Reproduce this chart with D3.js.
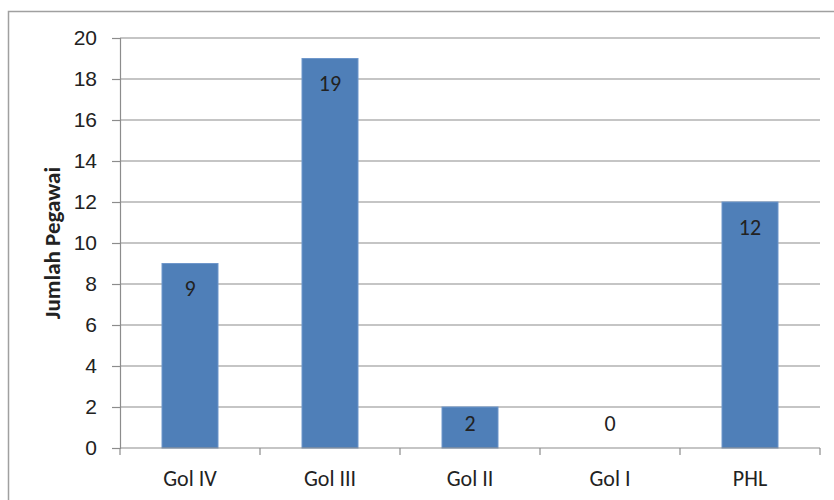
<!DOCTYPE html>
<html>
<head>
<meta charset="utf-8">
<script src="https://cdn.jsdelivr.net/npm/d3@7"></script>
<style>
  body { margin: 0; background: #fff; }
  svg { display: block; font-family: Carlito, Lato, sans-serif; }
</style>
</head>
<body>
<svg></svg>
<script>
var width = 834;
var height = 500;

var categories = ["Gol IV", "Gol III", "Gol II", "Gol I", "PHL"];
var values = [9, 19, 2, 0, 12];
var yTicks = [0, 2, 4, 6, 8, 10, 12, 14, 16, 18, 20];

var svg = d3.select("svg")
    .attr("width", width)
    .attr("height", height);

// outer frame (right and bottom run off the picture)
svg.append("path")
    .attr("d", "M8.5,520 V11.5 H860")
    .attr("fill", "none")
    .attr("stroke", "#a0a0a0")
    .attr("stroke-width", 1.5);

var plotLeft = 120, plotRight = 820, plotTop = 38, plotBottom = 448;

var x = d3.scaleBand().domain(categories).range([plotLeft, plotRight]).paddingInner(0.6).paddingOuter(0.3);
var xOuter = d3.scaleBand().domain(categories).range([plotLeft, plotRight]);
var y = d3.scaleLinear().domain([0, 20]).range([plotBottom, plotTop]);

// gridlines
svg.append("g").selectAll("line")
    .data(yTicks.filter(function(d) { return d > 0; }))
    .enter().append("line")
    .attr("x1", plotLeft).attr("x2", plotRight)
    .attr("y1", function(d) { return y(d); })
    .attr("y2", function(d) { return y(d); })
    .attr("stroke", "#8c8c8c")
    .attr("stroke-width", 1.2);

// y axis
var yAxis = d3.axisLeft(y).tickValues(yTicks).tickSize(8).tickPadding(15);
var gy = svg.append("g").attr("transform", "translate(" + plotLeft + ",0)").call(yAxis);
gy.select(".domain").attr("stroke", "#8c8c8c").attr("stroke-width", 1.2);
gy.selectAll(".tick line").attr("stroke", "#8c8c8c").attr("stroke-width", 1.2);
gy.selectAll("text").attr("font-size", 21).attr("fill", "#222").attr("font-family", null);

// bars
svg.append("g").selectAll("rect")
    .data(values)
    .enter().append("rect")
    .attr("x", function(d, i) { return x(categories[i]); })
    .attr("width", x.bandwidth())
    .attr("y", function(d) { return y(d); })
    .attr("height", function(d) { return plotBottom - y(d); })
    .attr("fill", "#4f7fb8")
    .attr("stroke", "#6f97cb")
    .attr("stroke-width", 1);

// x axis
var gx = svg.append("g").attr("transform", "translate(0," + plotBottom + ")");
gx.append("line").attr("x1", plotLeft).attr("x2", plotRight)
    .attr("stroke", "#8c8c8c").attr("stroke-width", 1.2);
gx.selectAll(".tk")
    .data(categories.map(function(c) { return xOuter(c); }).concat([plotRight]))
    .enter().append("line")
    .attr("x1", function(d) { return d; }).attr("x2", function(d) { return d; })
    .attr("y1", 0).attr("y2", 7)
    .attr("stroke", "#8c8c8c").attr("stroke-width", 1.2);
gx.selectAll("text")
    .data(categories)
    .enter().append("text")
    .attr("x", function(d) { return x(d) + x.bandwidth() / 2; })
    .attr("y", 38)
    .attr("text-anchor", "middle")
    .attr("font-size", 22)
    .attr("fill", "#222")
    .text(function(d) { return d; });

// value labels
svg.append("g").selectAll("text")
    .data(values)
    .enter().append("text")
    .attr("x", function(d, i) { return x(categories[i]) + x.bandwidth() / 2; })
    .attr("y", function(d) { return Math.min(y(d) + 25, plotBottom - 25); })
    .attr("dy", "0.35em")
    .attr("text-anchor", "middle")
    .attr("font-size", 22)
    .attr("fill", "#222")
    .text(function(d) { return d; });

// y title
svg.append("text")
    .attr("transform", "translate(60," + (plotTop + plotBottom) / 2 + ") rotate(-90)")
    .attr("text-anchor", "middle")
    .attr("font-size", 23)
    .attr("font-weight", "bold")
    .attr("fill", "#222")
    .text("Jumlah Pegawai");
</script>
</body>
</html>
